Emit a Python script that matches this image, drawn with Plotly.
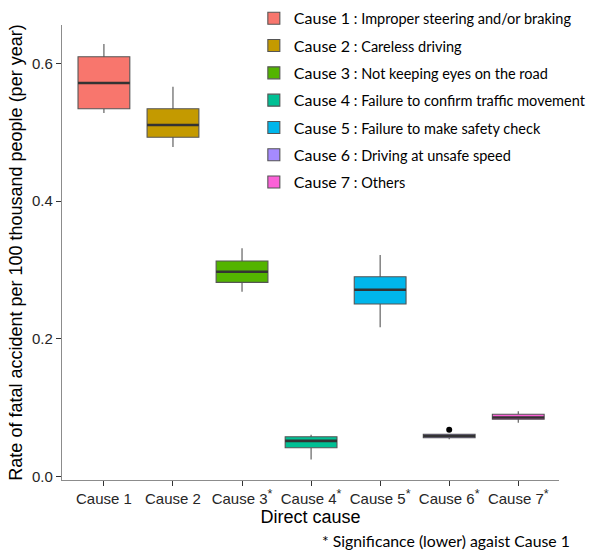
import plotly.graph_objects as go

# Direct causes of fatal accidents and their descriptions
causes = ["Cause 1", "Cause 2", "Cause 3", "Cause 4", "Cause 5", "Cause 6", "Cause 7"]
descriptions = [
    "Improper steering and/or braking",
    "Careless driving",
    "Not keeping eyes on the road",
    "Failure to confirm traffic movement",
    "Failure to make safety check",
    "Driving at unsafe speed",
    "Others",
]
# significantly lower than Cause 1
significant = [False, False, True, True, True, True, True]

# Box statistics: rate of fatal accident per 100 thousand people (per year)
lower_whisker = [0.528, 0.4785, 0.2685, 0.025, 0.2168, 0.0543, 0.0784]
q1 = [0.534, 0.4926, 0.2821, 0.042, 0.2506, 0.0565, 0.0833]
median = [0.5714, 0.5105, 0.2975, 0.052, 0.2714, 0.059, 0.086]
q3 = [0.6096, 0.534, 0.3131, 0.058, 0.2903, 0.0617, 0.0906]
upper_whisker = [0.628, 0.566, 0.3315, 0.061, 0.3218, 0.0617, 0.0949]

# Outlying observations
outlier_cause = ["Cause 6"]
outlier_rate = [0.068]

colors = ["#F8766D", "#C49A00", "#53B400", "#00C094", "#00B6EB", "#A58AFF", "#FB61D7"]

BOX_WIDTH = 0.75
positions = list(range(1, len(causes) + 1))

fig = go.Figure()

for i, cause in enumerate(causes):
    label = (
        f"<span style='font-size:16px'>{cause}</span>"
        f"<span style='font-size:14.5px'> : {descriptions[i]}</span>"
    )
    fig.add_trace(
        go.Box(
            x=[positions[i]],
            q1=[q1[i]],
            median=[median[i]],
            q3=[q3[i]],
            lowerfence=[lower_whisker[i]],
            upperfence=[upper_whisker[i]],
            width=BOX_WIDTH,
            whiskerwidth=0,
            boxpoints=False,
            fillcolor=colors[i],
            line=dict(color="#555555", width=1.1),
            name=label,
            legendgroup=cause,
            hoverinfo="skip",
        )
    )

# Thick median bars on top of each box
mx, my = [], []
for i, m in enumerate(median):
    mx += [positions[i] - BOX_WIDTH / 2, positions[i] + BOX_WIDTH / 2, None]
    my += [m, m, None]
fig.add_trace(
    go.Scatter(
        x=mx, y=my, mode="lines",
        line=dict(color="#333333", width=2.6),
        showlegend=False, hoverinfo="skip",
    )
)

# Outliers
fig.add_trace(
    go.Scatter(
        x=[positions[causes.index(c)] for c in outlier_cause],
        y=outlier_rate,
        mode="markers",
        marker=dict(color="black", size=6),
        showlegend=False, hoverinfo="skip",
    )
)

ticktext = [
    c + ("<sup><span style='font-size:12.5px'>*</span></sup>" if s else "")
    for c, s in zip(causes, significant)
]

axis_font = dict(family="Liberation Sans, Arial, sans-serif", size=15, color="#262626")
title_font = dict(family="Liberation Sans, Arial, sans-serif", size=18, color="black")

fig.update_layout(
    width=595,
    height=552,
    margin=dict(l=62, r=36, t=25, b=72, autoexpand=False),
    paper_bgcolor="white",
    plot_bgcolor="white",
    boxmode="overlay",
    showlegend=True,
    legend=dict(
        x=0.386, y=1.052, xanchor="left", yanchor="top",
        font=dict(family="Lato, sans-serif", size=16, color="black"),
        bgcolor="rgba(0,0,0,0)",
        tracegroupgap=3.5,
    ),
    xaxis=dict(
        range=[0.393, 7.59],
        tickmode="array",
        tickvals=positions,
        ticktext=ticktext,
        tickangle=0,
        tickfont=axis_font,
        ticks="outside", ticklen=5, tickcolor="#333333", tickwidth=1,
        showline=True, linecolor="#8c8c8c", linewidth=1.3,
        showgrid=False, zeroline=False,
        title=dict(text="Direct cause", font=title_font, standoff=3),
    ),
    yaxis=dict(
        range=[-0.0048, 0.6556],
        tickvals=[0.0, 0.2, 0.4, 0.6],
        tickformat=".1f",
        tickfont=axis_font,
        ticks="outside", ticklen=5, tickcolor="#333333", tickwidth=1,
        showline=True, linecolor="#8c8c8c", linewidth=1.3,
        showgrid=False, zeroline=False,
        title=dict(text="Rate of fatal accident per 100 thousand people (per year)",
                   font=title_font, standoff=4),
    ),
    annotations=[
        dict(
            text="* Significance (lower) agaist Cause 1",
            xref="paper", yref="paper",
            x=1.026, y=-0.132, xanchor="right", yanchor="middle",
            showarrow=False,
            font=dict(family="Lato, sans-serif", size=15.8, color="black"),
        )
    ],
)

fig.write_html("out.html")
